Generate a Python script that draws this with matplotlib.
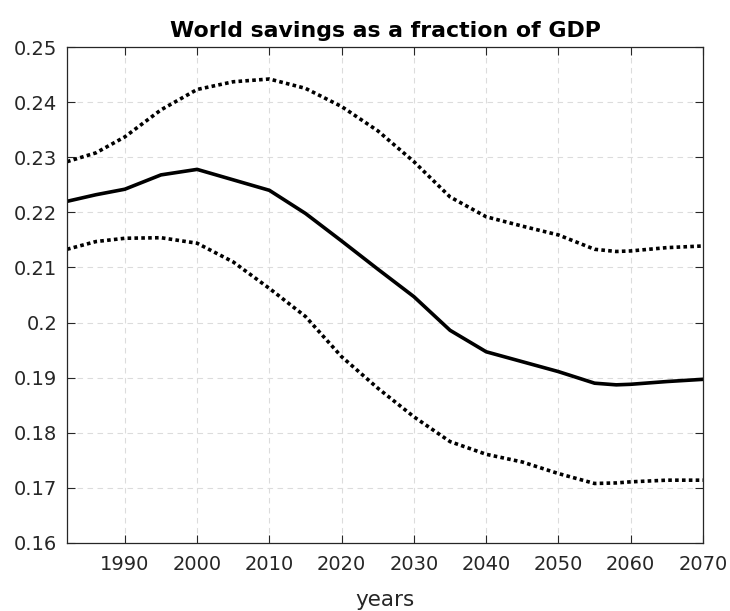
import numpy as np
import matplotlib
matplotlib.use("Agg")
from matplotlib import pyplot as plt

plt.rcParams['font.family'] = ['DejaVu Sans']

# values
years = [1982, 1986, 1990, 1995, 2000, 2005, 2010, 2015, 2020, 2025, 2030,
         2035, 2040, 2045, 2050, 2055, 2058, 2060, 2065, 2070]
savings_mid = [0.2220, 0.2232, 0.2242, 0.2268, 0.2278, 0.2259, 0.2240, 0.2198,
               0.2148, 0.2097, 0.2047, 0.1986, 0.1947, 0.1929, 0.1911, 0.1890,
               0.1887, 0.1888, 0.1893, 0.1897]
savings_hi = [0.2292, 0.2308, 0.2337, 0.2386, 0.2423, 0.2437, 0.2442, 0.2425,
              0.2392, 0.2348, 0.2292, 0.2228, 0.2192, 0.2175, 0.2159, 0.2133,
              0.2129, 0.2130, 0.2136, 0.2139]
savings_lo = [0.2133, 0.2147, 0.2153, 0.2154, 0.2144, 0.2110, 0.2062, 0.2011,
              0.1938, 0.1881, 0.1829, 0.1784, 0.1761, 0.1747, 0.1726, 0.1708,
              0.1709, 0.1711, 0.1714, 0.1714]

xticks = [1990, 2000, 2010, 2020, 2030, 2040, 2050, 2060, 2070]
yticks = [0.16, 0.17, 0.18, 0.19, 0.2, 0.21, 0.22, 0.23, 0.24, 0.25]
ytick_labels = ['0.16', '0.17', '0.18', '0.19', '0.2', '0.21', '0.22', '0.23', '0.24', '0.25']

fig = plt.figure(figsize=(7.3, 6.11), dpi=100)
ax = fig.add_axes([0.0918, 0.1113, 0.8712, 0.8117])

ax.plot(years, savings_mid, color='black', lw=2.6, solid_joinstyle='round')
ax.plot(years, savings_hi, color='black', lw=2.6, linestyle=(0, (1, 0.9)))
ax.plot(years, savings_lo, color='black', lw=2.6, linestyle=(0, (1, 0.9)))

ax.set_xlim(1982, 2070)
ax.set_ylim(0.16, 0.25)
ax.set_xticks(xticks)
ax.set_yticks(yticks)
ax.set_yticklabels(ytick_labels)
ax.grid(True, linestyle=(0, (5, 4)), color='#dcdcdc', lw=0.8)
ax.tick_params(direction='in', top=True, right=True, length=6, width=0.8,
               colors='#262626', labelsize=14)
ax.tick_params(axis='x', pad=9)
ax.tick_params(axis='y', pad=7)
for s in ax.spines.values():
    s.set_color('#262626')
    s.set_linewidth(0.9)

ax.set_title('World savings as a fraction of GDP', fontsize=15.8,
             fontweight='bold', pad=7)
ax.set_xlabel('years', fontsize=15.5, color='#262626', labelpad=11)

fig.savefig('out.png', dpi=100)
